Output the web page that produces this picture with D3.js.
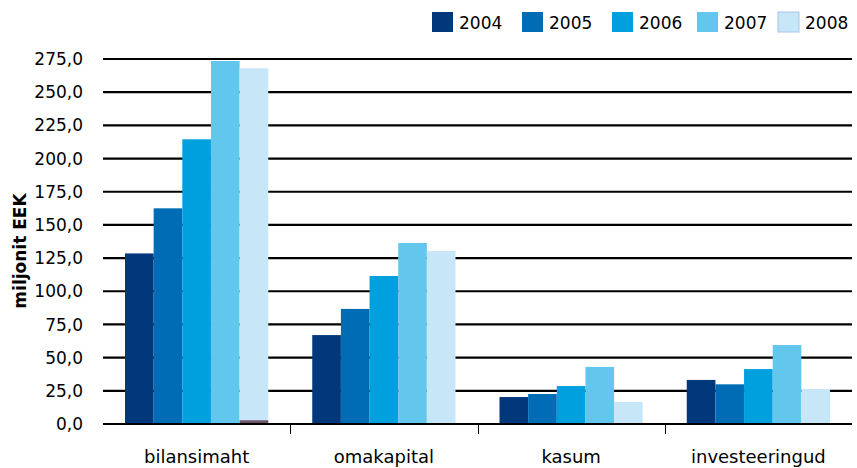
<!DOCTYPE html>
<html lang="et">
<meta charset="utf-8">
<head>
  <script src="https://d3js.org/d3.v7.min.js"></script>
</head>
<body>
  <div id="my_dataviz"></div>
  <script>
    // data (miljonit EEK)
    var categories = ["bilansimaht", "omakapital", "kasum", "investeeringud"];
    var years = ["2004", "2005", "2006", "2007", "2008"];
    var v2004 = [128.5, 67.0, 20.3, 33.2];
    var v2005 = [162.5, 86.7, 22.6, 29.9];
    var v2006 = [214.5, 111.5, 28.6, 41.4];
    var v2007 = [273.5, 136.4, 43.0, 59.5];
    var v2008 = [268.0, 130.4, 16.6, 26.4];
    var muu2008 = [2.8, 0, 0, 0]; // small dark strip at the foot of the 2008 bar
    var yTicks = [0, 25, 50, 75, 100, 125, 150, 175, 200, 225, 250, 275];
    var colors = ["#00387b", "#006cb5", "#00a0df", "#63c6ed", "#c7e7f8"];

    var series = [v2004, v2005, v2006, v2007, v2008];

    var W = 857, H = 468;
    var margin = { top: 59, right: 5, bottom: 44, left: 103 },
      width = W - margin.left - margin.right,
      height = H - margin.top - margin.bottom;

    var svg = d3.select("#my_dataviz")
      .append("svg")
      .attr("width", W)
      .attr("height", H)
      .style("font-family", "'DejaVu Sans', sans-serif");

    var g = svg.append("g")
      .attr("transform", "translate(" + margin.left + "," + margin.top + ")");

    var y = d3.scaleLinear().domain([0, 275]).range([height, 0]);
    var x0 = d3.scaleBand().domain(categories).range([0, width]).paddingInner(0).paddingOuter(0);
    var x1 = d3.scaleBand().domain(years).range([22, x0.bandwidth() - 22]);

    // gridlines
    g.selectAll(".grid").data(yTicks.slice(1))
      .enter().append("line")
      .attr("x1", 0).attr("x2", width)
      .attr("y1", function (d) { return y(d); })
      .attr("y2", function (d) { return y(d); })
      .attr("stroke", "#000").attr("stroke-width", 2.2);

    // y tick labels
    g.selectAll(".ylab").data(yTicks)
      .enter().append("text")
      .attr("x", -20)
      .attr("y", function (d) { return y(d); })
      .attr("dy", "0.36em")
      .attr("text-anchor", "end")
      .attr("font-size", 17)
      .attr("fill", "#000")
      .text(function (d) { return d3.format(".1f")(d).replace(".", ","); });

    // bars
    var groups = g.selectAll(".cat").data(categories)
      .enter().append("g")
      .attr("transform", function (d) { return "translate(" + x0(d) + ",0)"; });

    groups.selectAll("rect")
      .data(function (d, i) { return years.map(function (yr, j) { return { yr: yr, j: j, v: series[j][i] }; }); })
      .enter().append("rect")
      .attr("x", function (d) { return x1(d.yr); })
      .attr("width", x1.bandwidth())
      .attr("y", function (d) { return y(d.v); })
      .attr("height", function (d) { return height - y(d.v); })
      .attr("fill", function (d) { return colors[d.j]; });

    groups.append("rect")
      .attr("x", x1("2008"))
      .attr("width", x1.bandwidth())
      .attr("y", function (d, i) { return y(muu2008[i]); })
      .attr("height", function (d, i) { return height - y(muu2008[i]); })
      .attr("fill", "#6e5369");

    // x axis
    g.append("line")
      .attr("x1", 0).attr("x2", width)
      .attr("y1", height).attr("y2", height)
      .attr("stroke", "#000").attr("stroke-width", 2.2);

    g.selectAll(".xtick").data(categories.slice(1))
      .enter().append("line")
      .attr("x1", function (d) { return Math.round(x0(d)) + 0.5; })
      .attr("x2", function (d) { return Math.round(x0(d)) + 0.5; })
      .attr("y1", height).attr("y2", height + 10)
      .attr("stroke", "#000").attr("stroke-width", 1);

    g.selectAll(".xlab").data(categories)
      .enter().append("text")
      .attr("x", function (d) { return x0(d) + x0.bandwidth() / 2; })
      .attr("y", height + 39)
      .attr("text-anchor", "middle")
      .attr("font-size", 18)
      .text(function (d) { return d; });

    // y title
    svg.append("text")
      .attr("transform", "translate(26,251) rotate(-90)")
      .attr("text-anchor", "middle")
      .attr("font-size", 17)
      .attr("font-weight", "bold")
      .text("miljonit EEK");

    // legend
    var leg = svg.selectAll(".leg").data(years)
      .enter().append("g")
      .attr("transform", function (d, i) { return "translate(" + [432, 522, 612, 697, 778][i] + ",12)"; });

    leg.append("rect")
      .attr("width", 21).attr("height", 20)
      .attr("fill", function (d, i) { return colors[i]; })
      .attr("stroke", function (d, i) { return i == 4 ? "#a8c4e6" : "none"; });

    leg.append("text")
      .attr("x", 27).attr("y", 17)
      .attr("font-size", 17)
      .text(function (d) { return d; });
  </script>
  <style>
    body { margin: 0; background: #fff; }
  </style>
</body>
</html>
